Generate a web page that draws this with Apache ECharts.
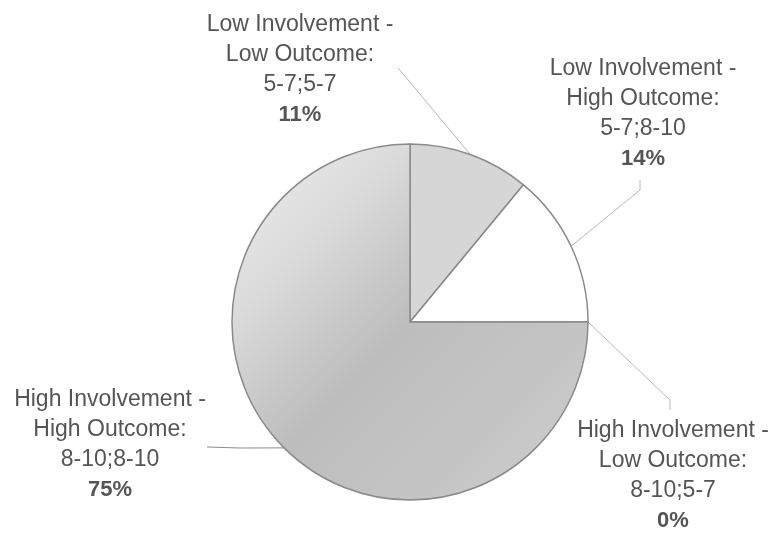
<!DOCTYPE html>
<html>
<head>
<meta charset="utf-8">
<script src="https://cdn.jsdelivr.net/npm/echarts@6/dist/echarts.min.js"></script>
<style>
html,body{margin:0;padding:0;background:#fff;}
#c{width:773px;height:534px;}
</style>
</head>
<body>
<div id="c"></div>
<script>
// ---- data ----
const involvement = ['Low', 'Low', 'High', 'High'];
const outcome = ['Low', 'High', 'Low', 'High'];
const ranges = ['5-7;5-7', '5-7;8-10', '8-10;5-7', '8-10;8-10'];
const values = [11, 14, 0, 75];

// ---- layout helpers (label placement only) ----
const labelCenters = [[300, 70], [643, 114], [673, 476], [110, 445]];
const leaderBends = [
  [[399, 69], [398, 68]],
  [[640, 190], [640, 180]],
  [[670, 400], [670, 410]],
  [[240, 448], [207, 447]]
];

const sliceColors = [
  '#d6d6d6',
  '#ffffff',
  '#cfcfcf',
  {type: 'linear', x: 0, y: 0, x2: 1, y2: 1, colorStops: [
    {offset: 0, color: '#f0f0f0'},
    {offset: 0.25, color: '#dadada'},
    {offset: 0.5, color: '#bdbdbd'},
    {offset: 0.75, color: '#c4c4c4'},
    {offset: 1, color: '#d0d0d0'}
  ]}
];

const seriesData = values.map((v, i) => ({
  name: involvement[i] + ' Involvement -\n' + outcome[i] + ' Outcome:\n' + ranges[i],
  value: v,
  itemStyle: {color: sliceColors[i]},
  labelLine: {lineStyle: {color: i === 3 ? '#8c8c8c' : '#b8b8b8', width: 1}}
}));

const chart = echarts.init(document.getElementById('c'));
chart.setOption({
  backgroundColor: '#ffffff',
  animation: false,
  series: [{
    type: 'pie',
    center: [410, 322],
    radius: 178,
    startAngle: 90,
    clockwise: true,
    avoidLabelOverlap: false,
    stillShowZeroSum: true,
    minShowLabelAngle: 0,
    itemStyle: {borderColor: '#8a8a8a', borderWidth: 1.5},
    emphasis: {disabled: true},
    label: {
      show: true,
      position: 'outside',
      formatter: p => '{n|' + p.name + '}\n{b|' + p.value + '%}',
      rich: {
        n: {fontFamily: 'Liberation Sans, Arial, sans-serif', fontSize: 23, lineHeight: 30, color: '#555555', align: 'center'},
        b: {fontFamily: 'Liberation Sans, Arial, sans-serif', fontSize: 22, lineHeight: 30, color: '#555555', fontWeight: 'bold', align: 'center'}
      }
    },
    labelLine: {show: true, length: 10, length2: 10, smooth: false},
    labelLayout: function (params) {
      const i = params.dataIndex;
      const c = labelCenters[i];
      const start = params.labelLinePoints ? params.labelLinePoints[0] : [0, 0];
      return {
        x: c[0],
        y: c[1],
        align: 'center',
        verticalAlign: 'middle',
        labelLinePoints: [start, leaderBends[i][0], leaderBends[i][1]]
      };
    },
    data: seriesData
  }]
});
</script>
</body>
</html>
